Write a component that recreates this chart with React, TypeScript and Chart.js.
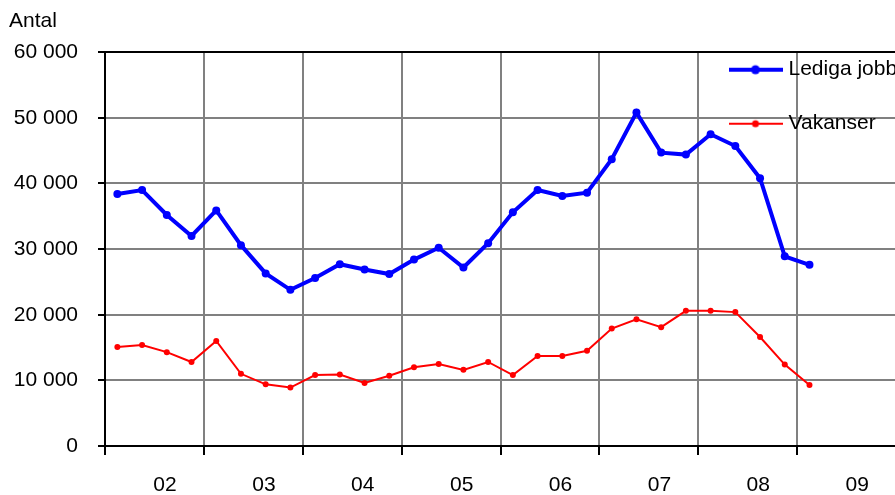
import { useEffect, useRef } from 'react'
import { Chart, registerables } from 'chart.js'

Chart.register(...registerables)

// quarterly values, 2002 Q1 .. 2009 Q1
const ledigaJobb = [
  38400, 39000, 35200, 32000, 35900, 30600, 26300, 23800, 25600, 27700,
  26900, 26200, 28400, 30200, 27200, 30900, 35600, 39000, 38100, 38600,
  43700, 50800, 44700, 44400, 47500, 45700, 40800, 28900, 27600
]
const vakanser = [
  15100, 15400, 14300, 12800, 16000, 11000, 9400, 8900, 10800, 10900,
  9600, 10700, 12000, 12500, 11600, 12800, 10800, 13700, 13700, 14500,
  17900, 19300, 18100, 20600, 20600, 20400, 16600, 12400, 9300
]
const yearLabels = ['02', '03', '04', '05', '06', '07', '08', '09']
const yTicks = [0, 10000, 20000, 30000, 40000, 50000, 60000]

const FONT = "'Liberation Sans', Arial, sans-serif"

function legendSample(color: string, lineWidth: number, radius: number) {
  const c = document.createElement('canvas')
  c.width = 54
  c.height = 12
  const g = c.getContext('2d')!
  g.strokeStyle = color
  g.fillStyle = color
  g.lineWidth = lineWidth
  g.beginPath()
  g.moveTo(0, 6)
  g.lineTo(54, 6)
  g.stroke()
  g.beginPath()
  g.arc(27, 6, radius, 0, Math.PI * 2)
  g.fill()
  return c
}

export default function App() {
  const canvasRef = useRef<HTMLCanvasElement>(null)

  useEffect(() => {
    if (!canvasRef.current) return
    document.body.style.margin = '0'
    const samples = [legendSample('#0000ff', 4, 4.5), legendSample('#ff0000', 2, 3.5)]

    const toPoints = (vals: number[]) => vals.map((v, i) => ({ x: i + 0.5, y: v }))

    const chart = new Chart(canvasRef.current, {
      type: 'line',
      data: {
        datasets: [
          {
            label: 'Lediga jobb',
            data: toPoints(ledigaJobb),
            borderColor: '#0000ff',
            backgroundColor: '#0000ff',
            borderWidth: 4,
            pointRadius: 4,
            pointBorderWidth: 0,
            tension: 0
          },
          {
            label: 'Vakanser',
            data: toPoints(vakanser),
            borderColor: '#ff0000',
            backgroundColor: '#ff0000',
            borderWidth: 2,
            pointRadius: 3,
            pointBorderWidth: 0,
            tension: 0
          }
        ]
      },
      options: {
        animation: false,
        responsive: true,
        maintainAspectRatio: false,
        layout: { padding: { left: 9, right: 3, top: 0, bottom: 0 } },
        font: { family: FONT, size: 21 },
        scales: {
          x: {
            type: 'linear',
            min: 0,
            max: yearLabels.length * 4,
            afterBuildTicks: (scale) => {
              scale.ticks = Array.from({ length: yearLabels.length + 1 }, (_, i) => ({ value: i * 4 }))
            },
            afterFit: (scale) => {
              scale.height = 49
              scale.paddingLeft = 0
              scale.paddingRight = 0
            },
            ticks: {
              autoSkip: false,
              maxRotation: 0,
              labelOffset: 60,
              padding: 18,
              color: '#000',
              font: { family: FONT, size: 21 },
              callback: (v) => yearLabels[Number(v) / 4] ?? ''
            },
            grid: {
              color: (ctx) => (ctx.tick && ctx.tick.value === 0 ? '#000' : '#808080'),
              lineWidth: 2,
              tickLength: 9,
              tickColor: '#000'
            },
            border: { color: '#000', width: 2 }
          },
          y: {
            min: 0,
            max: 60000,
            afterBuildTicks: (scale) => {
              scale.ticks = yTicks.map((v) => ({ value: v }))
            },
            afterFit: (scale) => { scale.width = 96 },
            ticks: {
              padding: 20,
              color: '#000',
              font: { family: FONT, size: 21 },
              callback: (v) => (Number(v) === 0 ? '0' : `${Number(v) / 1000} 000`)
            },
            grid: {
              color: (ctx) => (ctx.tick && ctx.tick.value === 60000 ? '#000' : '#808080'),
              lineWidth: 2,
              tickLength: 7,
              tickColor: '#000'
            },
            border: { color: '#000', width: 2 }
          }
        },
        plugins: {
          title: {
            display: true,
            text: 'Antal',
            align: 'start',
            color: '#000',
            font: { family: FONT, size: 21, weight: 'normal' },
            padding: { top: 9, bottom: 18 }
          },
          legend: {
            position: 'chartArea',
            align: 'start',
            labels: {
              usePointStyle: true,
              pointStyleWidth: 45,
              padding: 33,
              color: '#000',
              font: { family: FONT, size: 21 },
              generateLabels: (c) =>
                Chart.defaults.plugins.legend.labels.generateLabels(c).map((item, i) => ({
                  ...item,
                  pointStyle: samples[i]
                }))
            }
          },
          tooltip: { enabled: false }
        }
      },
      plugins: [
        {
          id: 'legendPlacement',
          beforeDraw: (c) => {
            const lg = c.legend as any
            if (!lg) return
            lg.left = c.chartArea.right - 196
            lg.top = c.chartArea.top - 26
          }
        }
      ]
    })

    return () => chart.destroy()
  }, [])

  return (
    <div style={{ position: 'absolute', left: 0, top: 0, width: 895, height: 495, overflow: 'hidden', background: '#fff' }}>
      <div style={{ position: 'relative', width: 900, height: 495 }}>
        <canvas ref={canvasRef}></canvas>
      </div>
    </div>
  )
}
